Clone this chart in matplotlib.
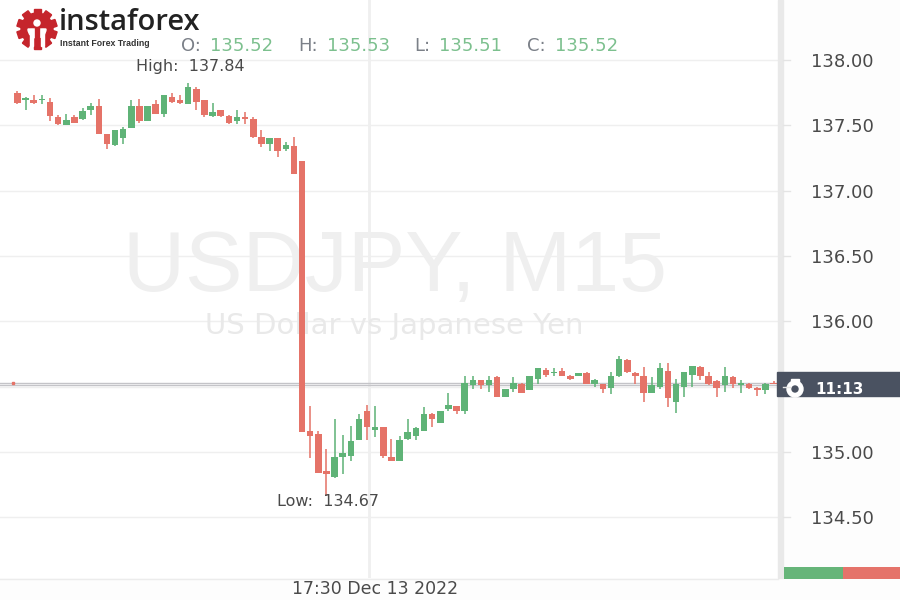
import matplotlib
matplotlib.use("Agg")
import matplotlib.pyplot as plt
from matplotlib.patches import Circle, Rectangle, Wedge
import numpy as np

open_ = [137.75, 137.69, 137.69, 137.69, 137.68, 137.56, 137.50, 137.56, 137.55, 137.62, 137.65, 137.43, 137.35, 137.40, 137.48, 137.65,
         137.53, 137.66, 137.59, 137.72, 137.69, 137.66, 137.78, 137.69, 137.57, 137.62, 137.57, 137.53, 137.56, 137.55, 137.41, 137.36,
         137.40, 137.32, 137.34, 137.23, 135.16, 135.14, 134.85, 134.81, 134.96, 134.97, 135.09, 135.31, 135.17, 135.19, 134.96, 134.93,
         135.10, 135.12, 135.16, 135.29, 135.22, 135.33, 135.35, 135.31, 135.51, 135.55, 135.51, 135.57, 135.42, 135.48, 135.52, 135.47,
         135.56, 135.63, 135.60, 135.62, 135.58, 135.58, 135.60, 135.52, 135.52, 135.49, 135.58, 135.70, 135.60, 135.58, 135.45, 135.50,
         135.62, 135.38, 135.50, 135.59, 135.65, 135.58, 135.54, 135.51, 135.57, 135.51, 135.52, 135.49, 135.47, 135.53]
high = [137.76, 137.72, 137.73, 137.73, 137.71, 137.58, 137.59, 137.58, 137.63, 137.67, 137.70, 137.43, 137.46, 137.49, 137.69, 137.70,
        137.65, 137.69, 137.73, 137.75, 137.73, 137.82, 137.79, 137.69, 137.67, 137.62, 137.58, 137.62, 137.60, 137.56, 137.46, 137.40,
        137.40, 137.37, 137.41, 137.23, 135.35, 135.16, 135.02, 135.25, 135.13, 135.20, 135.29, 135.36, 135.35, 135.19, 135.10, 135.12,
        135.25, 135.19, 135.34, 135.30, 135.31, 135.45, 135.35, 135.58, 135.58, 135.55, 135.58, 135.58, 135.48, 135.57, 135.53, 135.58,
        135.64, 135.64, 135.64, 135.64, 135.59, 135.60, 135.61, 135.56, 135.52, 135.61, 135.73, 135.71, 135.61, 135.65, 135.57, 135.68,
        135.68, 135.56, 135.61, 135.66, 135.66, 135.61, 135.55, 135.65, 135.58, 135.55, 135.53, 135.50, 135.53, 135.54]
low = [137.66, 137.62, 137.66, 137.66, 137.53, 137.50, 137.50, 137.52, 137.54, 137.58, 137.43, 137.32, 137.34, 137.36, 137.48, 137.52,
       137.53, 137.59, 137.56, 137.67, 137.66, 137.66, 137.62, 137.56, 137.56, 137.56, 137.51, 137.51, 137.51, 137.40, 137.33, 137.30,
       137.26, 137.30, 137.13, 135.15, 134.95, 134.84, 134.66, 134.80, 134.83, 134.93, 135.09, 135.09, 135.11, 134.95, 134.93, 134.93,
       135.09, 135.09, 135.16, 135.19, 135.22, 135.31, 135.29, 135.29, 135.48, 135.48, 135.46, 135.42, 135.42, 135.46, 135.45, 135.47,
       135.52, 135.57, 135.58, 135.58, 135.55, 135.58, 135.52, 135.50, 135.45, 135.44, 135.57, 135.60, 135.52, 135.38, 135.45, 135.48,
       135.34, 135.30, 135.42, 135.50, 135.55, 135.51, 135.42, 135.46, 135.49, 135.45, 135.48, 135.43, 135.44, 135.52]
close = [137.67, 137.71, 137.67, 137.70, 137.57, 137.51, 137.54, 137.52, 137.61, 137.65, 137.43, 137.36, 137.46, 137.47, 137.65, 137.53,
         137.65, 137.59, 137.73, 137.68, 137.67, 137.79, 137.68, 137.58, 137.60, 137.57, 137.52, 137.56, 137.55, 137.41, 137.36, 137.40,
         137.30, 137.35, 137.13, 135.15, 135.12, 134.84, 134.83, 134.96, 134.99, 135.08, 135.25, 135.19, 135.19, 134.97, 134.93, 135.09,
         135.15, 135.18, 135.29, 135.25, 135.31, 135.36, 135.31, 135.53, 135.55, 135.51, 135.55, 135.42, 135.48, 135.53, 135.45, 135.58,
         135.64, 135.59, 135.61, 135.58, 135.56, 135.60, 135.52, 135.55, 135.48, 135.58, 135.71, 135.61, 135.58, 135.45, 135.51, 135.64,
         135.41, 135.52, 135.61, 135.66, 135.58, 135.52, 135.49, 135.58, 135.52, 135.53, 135.49, 135.47, 135.52, 135.52]

price_ticks = [134.5, 135.0, 135.5, 136.0, 136.5, 137.0, 137.5, 138.0]
current_lines = [135.53, 135.51]
ohlc_labels = ["O:", "H:", "L:", "C:"]
ohlc_values = ["135.52", "135.53", "135.51", "135.52"]
buy_share = 0.51

green = "#5fb377"
red = "#e57368"
txt = "#4a4a4a"
pale = "#efefef"

fig = plt.figure(figsize=(9, 6), dpi=100, facecolor="#fdfdfd")

# chart area, right edge at the price scale
ax = fig.add_axes([0, 22 / 600, 778 / 900, 578 / 600], facecolor="white")
ax.set_xlim(-2.15, 93.54)
ax.set_ylim(134.034, 138.459)

x = np.arange(len(open_))
colors = [green if c >= o else red for o, c in zip(open_, close)]
bottoms = [min(o, c) for o, c in zip(open_, close)]
heights = [max(abs(c - o), 0.008) for o, c in zip(open_, close)]

ax.set_yticks(price_ticks)
ax.grid(axis="y", color=pale, linewidth=1)
ax.set_axisbelow(True)
ax.axvline(43.2, color=pale, linewidth=2, zorder=0.5)

# watermark sits under the candles
ax.text(46.4, 136.40, "USDJPY, M15", fontsize=62, color="#efefef", ha="center", va="center",
        family="Liberation Sans", zorder=1)
ax.text(46.3, 135.96, "US Dollar vs Japanese Yen", fontsize=21, color="#e9e9e9", ha="center", va="center",
        family="DejaVu Sans", zorder=1)

for v in current_lines:
    ax.axhline(v, color="#c4c4c8", linewidth=1, zorder=2)
ax.vlines(x, low, high, colors=colors, linewidth=1.4, alpha=0.8, zorder=3)
ax.bar(x, heights, bottom=bottoms, width=0.8, color=colors, zorder=4)

ax.set_xticks([])
ax.yaxis.tick_right()
ax.tick_params(axis="y", length=0, pad=24, labelsize=13, labelcolor=txt)
# 135.50 is covered by the countdown tag
ax.set_yticklabels(["" if p == 135.5 else "%.2f" % p for p in price_ticks], family="DejaVu Sans")
for s in ax.spines.values():
    s.set_visible(False)

# pixel overlay for the logo, labels and the right hand widgets
ov = fig.add_axes([0, 0, 1, 1])
ov.set_xlim(0, 900)
ov.set_ylim(600, 0)
ov.axis("off")

ov.add_patch(Rectangle((778, 0), 5, 578, color="#e9e9e9"))
for p in price_ticks:
    y = 60 + (138.0 - p) * 130.6
    ov.plot([783, 790], [y, y], color="#e4e4e4", lw=1)
ov.plot([0, 778], [578.5, 578.5], color="#ececec", lw=1)

# logo
logo_red = "#c5252c"
for a in np.arange(0, 360, 36):
    ov.add_patch(Rectangle((37 - 3.5, 29 - 20), 7, 7, color=logo_red,
                           transform=matplotlib.transforms.Affine2D().rotate_deg_around(37, 29, a) + ov.transData))
ov.add_patch(Circle((37, 29), 16, color=logo_red))
ov.add_patch(Wedge((37, 29), 9, 0, 180, color="white"))
ov.add_patch(Rectangle((35, 24), 4, 23, color=logo_red))
ov.add_patch(Rectangle((30, 29), 3, 17, color="white"))
ov.add_patch(Rectangle((41, 29), 3, 17, color="white"))
ov.add_patch(Circle((37, 23), 3, color="white"))
ov.text(59, 23, "instaforex", fontsize=21, color="#222222", va="center", family="Open Sans", weight="semibold")
ov.text(60, 44, "Instant Forex Trading", fontsize=6.3, color="#333333", va="center", weight="bold",
        family="Liberation Sans")

# ohlc header
label_x = [181, 298, 414, 527]
value_x = [210, 327, 439, 555]
for lx, vx, lab, val in zip(label_x, value_x, ohlc_labels, ohlc_values):
    ov.text(lx, 46, lab, fontsize=13, color="#7b8088", va="center", family="DejaVu Sans")
    ov.text(vx, 46, val, fontsize=13, color="#7cc08e", va="center", family="DejaVu Sans")

ov.text(190, 67, "High:  137.84", fontsize=11.5, color=txt, ha="center", va="center", family="DejaVu Sans")
ov.text(328, 502, "Low:  134.67", fontsize=11.5, color=txt, ha="center", va="center", family="DejaVu Sans")
ov.text(375, 589, "17:30 Dec 13 2022", fontsize=12.5, color=txt, ha="center", va="center", family="DejaVu Sans")

# countdown tag
ov.add_patch(Rectangle((777, 372), 123, 24, color="#4a5261"))
ov.add_patch(Circle((795, 389), 8, color="white"))
ov.add_patch(Circle((795, 389), 3, color="#4a5261"))
ov.add_patch(Rectangle((791, 379), 8, 3, color="white"))
ov.text(815, 389, "11:13", fontsize=11, color="white", va="center", weight="bold", family="DejaVu Sans")

ov.add_patch(Rectangle((12, 382), 2, 2, color=red))

# buy / sell bar
bar_w = 900 - 784
ov.barh(573, bar_w * buy_share, left=784, height=12, color="#66b579")
ov.barh(573, bar_w * (1 - buy_share), left=784 + bar_w * buy_share, height=12, color="#e5736a")

fig.savefig("out.png", dpi=100, facecolor=fig.get_facecolor())
